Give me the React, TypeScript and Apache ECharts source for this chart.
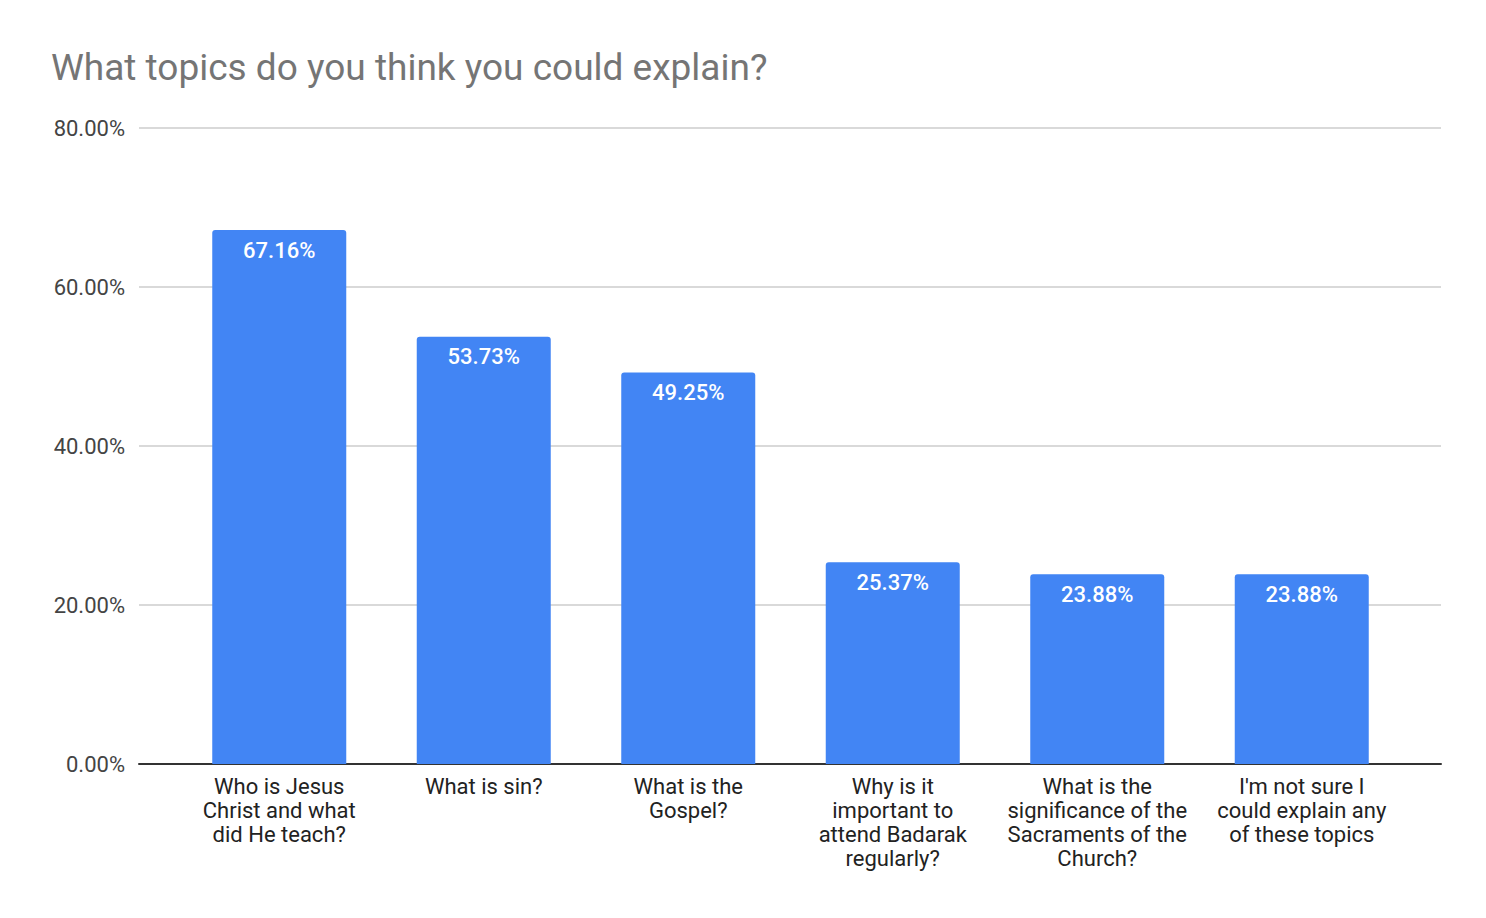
import React, { useEffect, useRef } from "react";
import * as echarts from "echarts";

const categories = [
  "Who is Jesus\nChrist and what\ndid He teach?",
  "What is sin?",
  "What is the\nGospel?",
  "Why is it\nimportant to\nattend Badarak\nregularly?",
  "What is the\nsignificance of the\nSacraments of the\nChurch?",
  "I'm not sure I\ncould explain any\nof these topics",
];
const values = [67.16, 53.73, 49.25, 25.37, 23.88, 23.88];

const App: React.FC = () => {
  const ref = useRef<HTMLDivElement | null>(null);

  useEffect(() => {
    if (!ref.current) return;
    const chart = echarts.init(ref.current, undefined, { renderer: "svg" });
    chart.setOption({
      animation: false,
      backgroundColor: "#fff",
      textStyle: { fontFamily: "Roboto, Arial, sans-serif" },
      title: {
        text: "What topics do you think you could explain?",
        left: 46,
        top: 44,
        textStyle: { fontSize: 37, fontWeight: "normal", color: "#757575" },
      },
      grid: [
        { left: 139, right: 45, top: 128, bottom: 154 },
        { left: 177, right: 82, top: 128, bottom: 154 },
      ],
      xAxis: [
        {
          type: "category",
          gridIndex: 0,
          data: [""],
          axisTick: { show: false },
          axisLabel: { show: false },
          axisLine: { lineStyle: { color: "#333", width: 2 } },
        },
        {
          type: "category",
          gridIndex: 1,
          data: categories,
          axisTick: { show: false },
          axisLine: { show: false },
          axisLabel: { fontSize: 22, color: "#222", lineHeight: 24, interval: 0, margin: 10 },
        },
      ],
      yAxis: [
        {
          type: "value",
          gridIndex: 0,
          min: 0,
          max: 80,
          interval: 20,
          axisLabel: {
            fontSize: 22,
            color: "#444",
            margin: 14,
            formatter: (v: number) => v.toFixed(2) + "%",
          },
          splitLine: { lineStyle: { color: "#ccc", width: 1.5 } },
        },
        {
          type: "value",
          gridIndex: 1,
          min: 0,
          max: 80,
          interval: 20,
          axisLabel: { show: false },
          splitLine: { show: false },
        },
      ],
      series: [
        {
          type: "bar",
          xAxisIndex: 1,
          yAxisIndex: 1,
          data: values,
          barWidth: 134,
          itemStyle: { color: "#4285F4", borderRadius: [3, 3, 0, 0] },
          label: {
            show: true,
            position: "insideTop",
            distance: 9,
            color: "#fff",
            fontSize: 22,
            fontWeight: 500,
            formatter: (p: any) => p.value.toFixed(2) + "%",
          },
        },
      ],
    });
    return () => chart.dispose();
  }, []);

  return (
    <div
      ref={ref}
      style={{ position: "fixed", left: 0, top: 0, width: 1486, height: 918 }}
    />
  );
};

export default App;
